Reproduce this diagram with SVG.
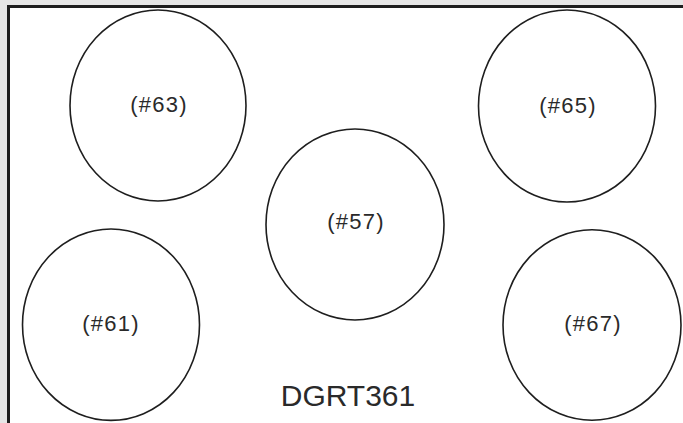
<svg xmlns="http://www.w3.org/2000/svg" width="683" height="423" viewBox="0 0 683 423">
<style>
.n ellipse{fill:none;stroke:#1e1e1e;stroke-width:1.6}
.n text{font-family:"Liberation Sans",Arial,sans-serif;font-size:22px;fill:#2a2a2a;text-anchor:middle;letter-spacing:1.2px}
.t{font-family:"Liberation Sans",Arial,sans-serif;font-size:30px;fill:#2a2a2a;text-anchor:middle}
</style>
<rect x="0" y="0" width="683" height="423" fill="#e6e6e6"/>
<rect x="8.5" y="6.5" width="690" height="430" fill="#ffffff" stroke="#1e1e1e" stroke-width="3"/>
<g id="connectors"></g>
<g id="n63" class="n"><ellipse cx="158" cy="105.5" rx="88" ry="95.5"/><text x="159" y="112">(#63)</text></g>
<g id="n65" class="n"><ellipse cx="567" cy="106" rx="88.5" ry="96"/><text x="568" y="113">(#65)</text></g>
<g id="n57" class="n"><ellipse cx="355" cy="224.5" rx="89" ry="95.5"/><text x="356" y="229">(#57)</text></g>
<g id="n61" class="n"><ellipse cx="111" cy="324.7" rx="88.5" ry="95.7"/><text x="111" y="331">(#61)</text></g>
<g id="n67" class="n"><ellipse cx="592" cy="325" rx="89" ry="95.3"/><text x="593" y="331">(#67)</text></g>
<text class="t" x="348" y="406">DGRT361</text>
</svg>
